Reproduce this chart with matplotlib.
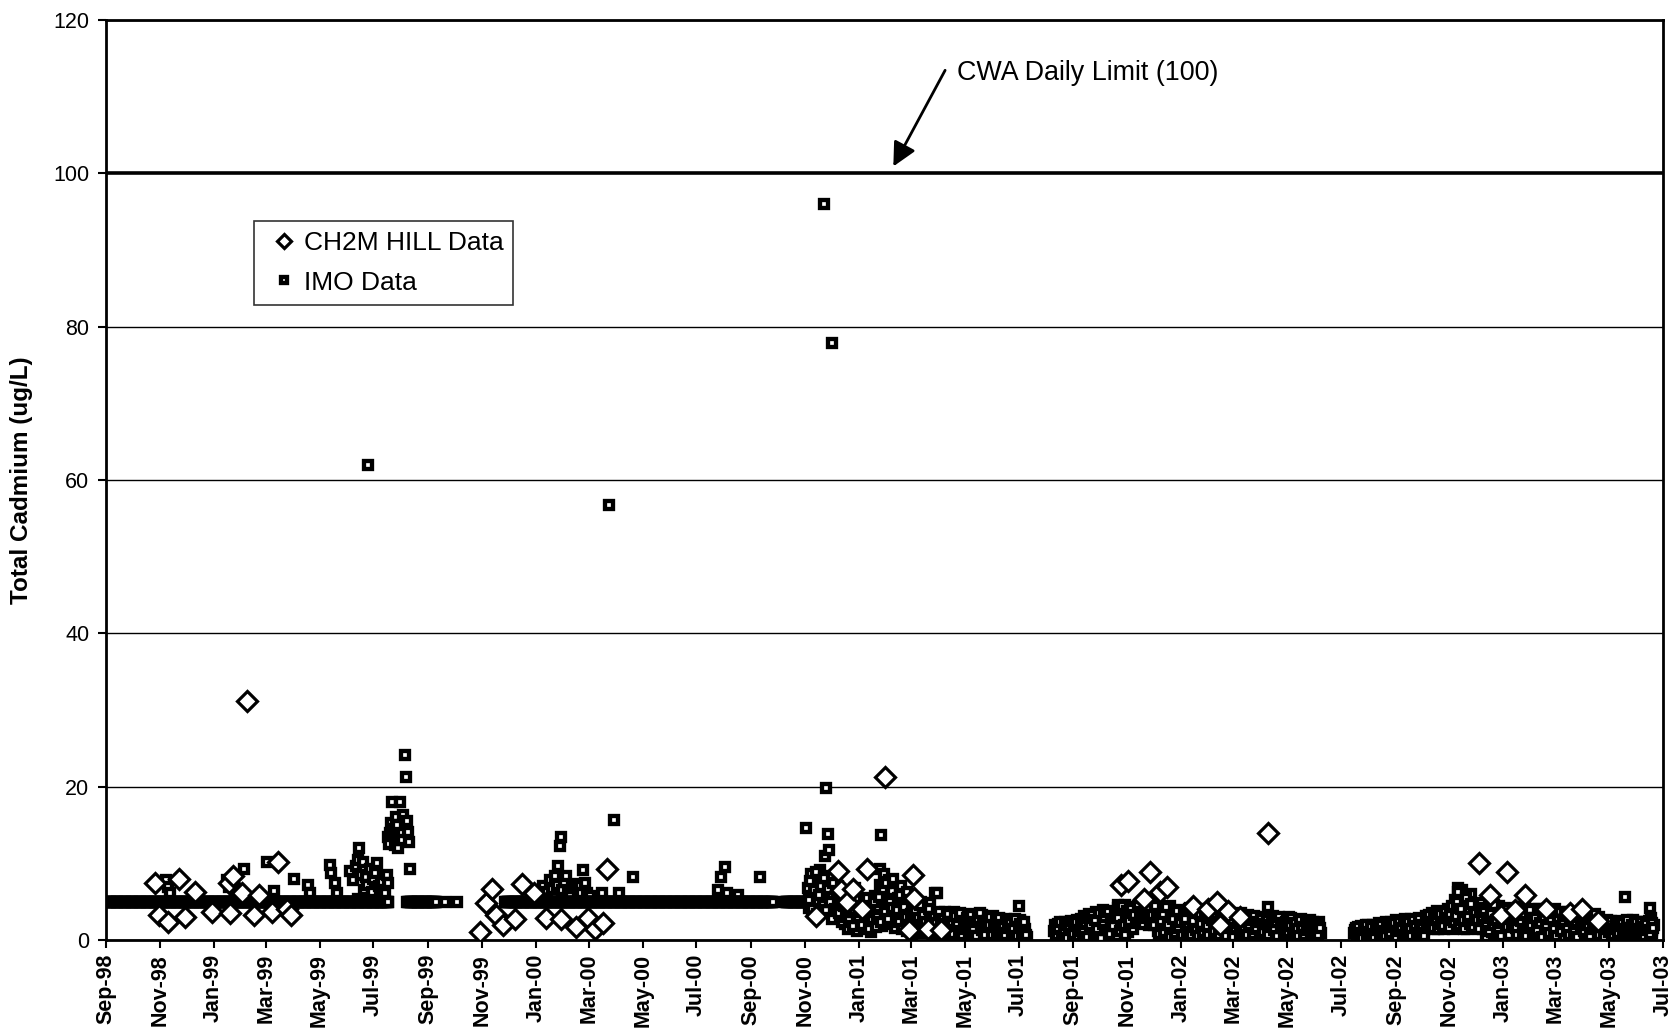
import matplotlib
matplotlib.use('Agg')
import matplotlib.pyplot as plt
import matplotlib.dates as mdates
import pandas as pd

plt.rcParams['font.family'] = ['Liberation Sans', 'DejaVu Sans']

# ---------------- DATA ----------------
# CH2M HILL samples
ch2m_dates = ['1998-10-27', '1998-10-31', '1998-11-10', '1998-11-23', '1998-11-29', '1998-12-11',
              '1998-12-30', '1999-01-18', '1999-01-20', '1999-01-23', '1999-02-02', '1999-02-08',
              '1999-02-16', '1999-02-21', '1999-03-08', '1999-03-15', '1999-03-25', '1999-03-30',
              '1999-10-30', '1999-11-05', '1999-11-12', '1999-11-17', '1999-11-25', '1999-12-08',
              '1999-12-16', '1999-12-30', '2000-01-13', '2000-01-30', '2000-02-16', '2000-02-29',
              '2000-03-08', '2000-03-17', '2000-03-22',
              '2000-11-13', '2000-12-08', '2000-12-12', '2000-12-19', '2000-12-25', '2001-01-05',
              '2001-01-10', '2001-01-30', '2001-02-27', '2001-03-03', '2001-03-04', '2001-03-20',
              '2001-04-04',
              '2001-10-25', '2001-11-02', '2001-11-20', '2001-11-27', '2001-12-08', '2001-12-16',
              '2002-01-14', '2002-01-31', '2002-02-11', '2002-02-14', '2002-02-23', '2002-03-09',
              '2002-04-09',
              '2002-12-04', '2002-12-17', '2002-12-30', '2003-01-05', '2003-01-14', '2003-01-26',
              '2003-02-19', '2003-03-18', '2003-03-31', '2003-04-18']
ch2m_values = [7.4, 3.3, 2.4, 8.0, 3.0, 6.3,
               3.7, 7.4, 3.5, 8.3, 6.1, 31.2,
               3.3, 5.9, 3.7, 10.2, 4.0, 3.3,
               1.1, 4.8, 6.6, 3.3, 2.0, 2.8,
               7.3, 6.1, 2.9, 2.8, 1.7, 2.9,
               1.5, 2.2, 9.3,
               3.1, 9.0, 6.5, 5.0, 6.6, 4.0,
               9.3, 21.3, 1.3, 8.5, 5.5, 1.5,
               1.3,
               7.2, 7.7, 5.3, 8.9, 6.3, 6.9,
               4.4, 4.1, 5.0, 2.0, 3.8, 3.0,
               13.9,
               10.1, 5.9, 3.3, 8.9, 3.9, 5.9,
               4.1, 3.5, 4.0, 2.5]

# IMO individual results
imo_dates = ['1998-11-08', '1998-11-10', '1998-11-12', '1999-01-16', '1999-01-18', '1999-01-25',
             '1999-02-04', '1999-03-02', '1999-03-10', '1999-04-02', '1999-04-18', '1999-04-20',
             '1999-05-13', '1999-05-14', '1999-05-19', '1999-05-21',
             '1999-06-04', '1999-06-08', '1999-06-11', '1999-06-13', '1999-06-14', '1999-06-15',
             '1999-06-17', '1999-06-19', '1999-06-20', '1999-06-22', '1999-06-24', '1999-06-25',
             '1999-06-27', '1999-06-29', '1999-07-01', '1999-07-03', '1999-07-05', '1999-07-07',
             '1999-07-09', '1999-07-11', '1999-07-14', '1999-07-16', '1999-07-18',
             '1999-07-17', '1999-07-19', '1999-07-20', '1999-07-21', '1999-07-22', '1999-07-24',
             '1999-07-25', '1999-07-26', '1999-07-28', '1999-07-29', '1999-07-31', '1999-08-02',
             '1999-08-04', '1999-08-06', '1999-08-07', '1999-08-08', '1999-08-09', '1999-08-10',
             '1999-08-11', '1999-09-20', '1999-10-04',
             '2000-01-09', '2000-01-14', '2000-01-17', '2000-01-19', '2000-01-23', '2000-01-25',
             '2000-01-26', '2000-01-28', '2000-01-29', '2000-01-31', '2000-02-02', '2000-02-04',
             '2000-02-06', '2000-02-09', '2000-02-13', '2000-02-17', '2000-02-20', '2000-02-21',
             '2000-02-23', '2000-02-26', '2000-02-28', '2000-03-02', '2000-03-16', '2000-03-24',
             '2000-03-30', '2000-04-04', '2000-04-20', '2000-07-25', '2000-07-29', '2000-08-02',
             '2000-08-04', '2000-08-17', '2000-09-11',
             '2000-11-02', '2000-11-22', '2000-11-24', '2000-11-25', '2000-11-27', '2000-11-28',
             '2000-12-01', '2001-01-25', '2001-01-26', '2001-03-28', '2001-07-01', '2001-07-03',
             '2001-10-22', '2002-04-10', '2002-09-29', '2002-11-11', '2002-11-15', '2003-05-19',
             '2003-06-16', '2003-06-17', '2003-06-18']
imo_values = [7.8, 6.9, 6.1, 7.8, 6.9, 6.3,
              9.2, 10.2, 6.4, 7.9, 7.2, 6.1,
              9.8, 8.7, 7.4, 6.1,
              9.0, 7.8, 9.6, 10.4, 5.4, 12.0,
              8.5, 10.2, 6.5, 8.2, 7.2, 61.9,
              9.2, 6.3, 8.0, 8.7, 10.0, 7.0,
              6.0, 7.6, 6.1, 8.5, 7.4,
              13.5, 12.5, 14.0, 15.2, 18.0, 14.5,
              12.4, 16.0, 15.0, 12.0, 18.0, 13.0,
              16.3, 24.1, 21.2, 15.5, 14.1, 12.8,
              9.2, 5.0, 5.0,
              7.0, 6.2, 7.8, 6.6, 8.3, 7.2,
              9.6, 12.2, 13.4, 6.5, 7.6, 8.3,
              6.1, 5.7, 6.8, 7.3, 7.0, 6.1,
              9.1, 7.4, 6.1, 5.7, 6.1, 56.8,
              15.6, 6.1, 8.2, 6.5, 8.2, 9.5,
              6.1, 5.9, 8.2,
              14.6, 96.0, 10.9, 19.8, 13.8, 11.8,
              77.9, 9.2, 13.7, 6.1, 4.5, 2.6,
              4.6, 4.3, 0.1, 6.8, 6.5, 5.6,
              4.2, 2.9, 0.9]

# IMO daily results reported at 5 ug/L (daily runs: start, end)
imo_rl_start = ['1998-09-01', '1999-08-08', '1999-11-27', '2000-10-09']
imo_rl_end = ['1999-07-18', '1999-09-10', '2000-09-26', '2000-11-12']
imo_rl_value = 5.0

# IMO dense monitoring periods: two interleaved sets, each one result every 2 days
imo_dense1a_start = '2000-11-04'
imo_dense1a_values = [6.8, 4.2, 8.6, 5.5, 3.8, 7.4, 4.9, 9.1, 6.2, 4.4,
                      7.9, 5.1, 3.6, 8.3, 6.0, 4.7, 2.9, 7.1, 5.4, 3.2,
                      6.2, 2.1, 4.8, 1.4, 5.6, 3.3, 2.4, 6.8, 1.2, 4.1,
                      2.8, 5.2, 1.6, 3.9, 2.2, 4.6, 1.1, 3.4, 5.8, 2.5,
                      4.3, 7.2, 1.8, 8.6, 5.1, 3.0, 7.8, 2.1, 6.4, 4.0,
                      1.7, 5.5, 3.1, 7.0, 2.4, 4.6, 1.2, 3.6, 5.2, 0.8,
                      2.7, 4.4, 1.5, 3.3, 5.0, 2.1, 0.9, 3.9, 1.8, 4.8,
                      2.6, 1.0, 3.5, 6.1, 2.0, 0.7, 3.1, 1.6, 3.7, 2.3,
                      0.9, 2.9, 1.4, 3.6, 0.6, 2.5, 1.8, 3.2, 1.1, 2.7,
                      0.5, 3.4, 1.9, 2.6, 0.8, 3.0, 1.5, 2.2, 0.6, 3.3,
                      1.7, 2.8, 0.9, 2.4, 1.3, 3.1, 0.7, 2.0, 1.6, 2.7,
                      0.8, 2.3, 1.4, 2.6, 0.5, 1.9, 2.5, 1.1, 2.2, 0.6,
                      1.8, 2.4, 0.9, 1.5, 0.4]
imo_dense1b_start = '2000-11-05'
imo_dense1b_values = [5.2, 7.7, 4.0, 6.5, 8.9, 3.4, 5.9, 7.0, 4.6, 8.1,
                      3.9, 6.6, 5.0, 2.7, 7.5, 4.1, 6.3, 3.5, 5.7, 2.3,
                      4.5, 3.0, 6.0, 2.6, 4.9, 1.8, 3.7, 5.3, 2.9, 3.6,
                      1.9, 4.4, 3.1, 5.5, 1.5, 3.8, 2.6, 4.9, 1.7, 3.0,
                      5.6, 2.4, 6.6, 3.6, 7.5, 2.8, 5.0, 4.2, 8.0, 1.6,
                      3.9, 2.3, 5.9, 1.4, 4.3, 3.0, 6.3, 2.0, 3.4, 1.6,
                      3.8, 1.1, 2.9, 4.6, 1.9, 3.2, 2.4, 1.3, 4.0, 2.8,
                      1.5, 3.0, 2.2, 0.8, 3.6, 1.7, 2.8, 0.6, 2.1, 3.4,
                      1.7, 2.4, 0.8, 3.1, 2.0, 1.2, 3.5, 0.7, 2.3, 1.5,
                      2.9, 1.1, 3.2, 1.6, 2.3, 0.5, 2.7, 3.5, 1.3, 2.0,
                      0.7, 2.5, 1.9, 3.0, 0.6, 1.8, 2.6, 1.2, 2.9, 0.9,
                      2.0, 0.6, 2.7, 1.6, 2.2, 0.9, 1.4, 2.8, 0.5, 1.7,
                      2.1, 1.0, 2.3, 0.7]
imo_dense2a_start = '2001-08-10'
imo_dense2a_values = [1.2, 0.4, 2.1, 0.8, 1.6, 0.3, 2.4, 1.0, 1.8, 0.5,
                      2.2, 1.3, 0.6, 2.6, 1.5, 0.3, 2.0, 3.1, 0.9, 1.7,
                      3.4, 0.4, 2.3, 1.2, 3.7, 0.7, 2.8, 1.6, 3.9, 0.5,
                      2.5, 3.2, 1.1, 3.8, 0.6, 2.2, 4.2, 1.4, 3.0, 0.4,
                      4.6, 2.7, 1.0, 3.5, 2.1, 4.3, 3.0, 2.4, 3.9, 2.2,
                      3.4, 4.5, 2.6, 3.1, 2.0, 4.0, 2.8, 3.6, 2.3, 1.2,
                      4.1, 0.6, 2.9, 3.7, 1.5, 0.3, 4.4, 2.2, 1.0, 3.3,
                      0.5, 2.6, 3.9, 1.3, 0.8, 3.5, 2.0, 4.2, 0.4, 1.7,
                      3.0, 2.4, 0.7, 3.8, 1.6, 0.3, 2.7, 4.0, 1.1, 2.2,
                      3.6, 0.5, 1.9, 3.2, 0.9, 2.6, 3.9, 1.4, 0.4, 2.9,
                      3.4, 1.2, 2.1, 0.6, 3.0, 1.8, 3.5, 0.8, 2.4, 1.5,
                      3.2, 0.5, 2.0, 2.8, 1.1, 0.7, 3.0, 1.7, 2.5, 0.4,
                      1.4, 2.9, 0.9, 2.2, 3.1, 0.6, 1.8, 2.6, 1.2, 0.5,
                      2.7, 1.6, 0.8, 3.0, 2.1, 0.4, 1.3, 2.5, 1.9, 0.7,
                      2.8, 1.1, 2.2, 0.6, 1.6, 2.6, 0.9, 1.9, 0.5, 1.4,
                      2.3, 0.9]
imo_dense2b_start = '2001-08-11'
imo_dense2b_values = [1.9, 0.7, 1.4, 2.3, 0.5, 1.1, 2.0, 0.3, 1.5, 2.5,
                      0.8, 1.9, 2.4, 0.5, 1.2, 2.8, 1.0, 2.2, 0.4, 2.9,
                      1.8, 3.3, 0.9, 2.6, 1.4, 3.5, 0.3, 2.1, 3.0, 1.3,
                      3.6, 0.8, 2.7, 1.8, 3.3, 0.5, 2.9, 1.2, 4.4, 2.0,
                      0.6, 3.8, 2.5, 4.1, 1.4, 3.3, 2.2, 4.5, 2.7, 3.6,
                      2.1, 3.9, 2.9, 4.3, 2.4, 3.2, 2.0, 4.4, 3.0, 0.8,
                      2.5, 3.4, 1.1, 4.3, 1.9, 0.4, 3.1, 2.7, 0.9, 3.8,
                      1.6, 2.3, 0.6, 3.3, 2.8, 1.1, 4.0, 0.7, 2.5, 3.6,
                      1.3, 0.5, 3.4, 2.1, 1.0, 3.9, 1.8, 0.6, 3.2, 2.6,
                      1.2, 3.1, 2.3, 0.7, 3.7, 1.5, 2.1, 0.5, 3.3, 1.8,
                      2.6, 0.4, 1.6, 3.2, 2.2, 0.9, 2.8, 1.3, 3.0, 0.6,
                      1.9, 2.6, 0.8, 3.1, 1.5, 2.3, 0.5, 2.7, 1.0, 2.1,
                      2.6, 0.7, 1.9, 2.8, 1.3, 2.4, 0.5, 3.0, 1.6, 2.2,
                      0.6, 2.4, 1.1, 1.8, 2.9, 0.9, 2.2, 1.5, 0.5, 2.6,
                      1.7, 0.6, 2.5, 1.3, 2.0, 0.8, 2.4, 1.2, 2.1, 0.7,
                      1.6]
imo_dense3a_start = '2002-07-16'
imo_dense3a_values = [0.9, 1.6, 0.3, 1.2, 1.8, 0.5, 1.4, 0.8, 1.9, 0.4,
                      1.5, 2.0, 0.7, 1.1, 2.2, 0.3, 1.7, 1.0, 2.3, 0.6,
                      1.3, 2.4, 0.5, 1.8, 2.6, 0.9, 0.3, 2.1, 1.4, 2.7,
                      0.6, 1.9, 2.8, 1.1, 0.4, 2.4, 1.6, 2.9, 0.8, 2.2,
                      1.5, 3.1, 1.9, 2.6, 3.5, 1.4, 2.2, 3.8, 1.7, 2.9,
                      3.3, 1.5, 2.5, 4.0, 2.0, 3.6, 1.4, 5.2, 2.8, 6.2,
                      1.8, 3.4, 4.6, 2.3, 1.5, 3.9, 6.0, 2.7, 4.3, 1.6,
                      3.1, 2.2, 4.8, 1.4, 3.6, 0.4, 2.5, 4.1, 1.0, 3.3,
                      0.6, 2.0, 4.4, 1.5, 3.0, 0.3, 3.8, 2.4, 1.1, 4.2,
                      0.8, 2.7, 3.5, 1.3, 0.4, 3.9, 2.1, 4.5, 1.2, 2.9,
                      0.5, 3.3, 1.8, 4.0, 2.4, 0.7, 3.6, 1.5, 2.8, 0.3,
                      3.8, 2.0, 1.1, 3.2, 4.1, 0.6, 2.5, 1.7, 3.5, 0.4,
                      2.2, 3.7, 1.3, 0.8, 3.0, 1.9, 3.4, 0.5, 2.6, 1.4,
                      3.6, 0.7, 2.1, 2.9, 1.0, 3.3, 0.4, 2.4, 1.6, 3.0,
                      0.6, 2.2, 1.3, 2.6, 0.3, 1.8, 2.4, 0.9, 2.0, 1.5,
                      2.5, 0.5, 1.7, 2.3, 1.0, 0.3, 2.1, 1.4, 2.6, 0.7,
                      1.9, 2.4, 0.4, 1.2, 2.2, 0.8, 1.6, 2.5, 0.6, 1.3,
                      2.0]
imo_dense3b_start = '2002-07-17'
imo_dense3b_values = [1.3, 0.6, 1.7, 0.9, 0.3, 1.5, 1.9, 0.6, 1.1, 1.7,
                      0.8, 0.4, 1.8, 1.3, 0.7, 2.0, 1.2, 0.5, 1.6, 2.1,
                      0.9, 1.7, 2.2, 0.4, 1.2, 2.3, 1.6, 0.7, 2.5, 1.0,
                      2.3, 1.4, 0.5, 2.6, 1.8, 0.9, 2.7, 1.2, 2.0, 0.5,
                      2.6, 1.8, 3.3, 2.4, 1.6, 3.0, 2.7, 1.5, 3.4, 2.1,
                      1.8, 3.7, 2.9, 1.6, 3.2, 4.4, 2.3, 3.1, 4.9, 1.9,
                      4.0, 2.6, 1.4, 5.5, 3.0, 2.1, 4.7, 1.7, 3.5, 2.6,
                      1.5, 4.2, 2.8, 3.7, 1.9, 2.9, 1.2, 3.4, 2.0, 4.6,
                      2.6, 1.2, 3.5, 0.5, 2.3, 4.0, 1.7, 0.6, 3.1, 2.0,
                      3.6, 1.6, 0.7, 4.3, 2.5, 1.1, 3.3, 0.5, 2.3, 3.9,
                      1.9, 0.8, 2.9, 1.3, 4.1, 2.2, 0.4, 3.0, 1.7, 3.8,
                      0.9, 2.7, 3.5, 1.5, 0.5, 2.9, 3.6, 1.2, 2.1, 3.1,
                      1.5, 0.6, 2.9, 3.3, 1.1, 2.4, 0.4, 3.0, 1.8, 2.6,
                      1.2, 3.1, 1.9, 0.5, 2.7, 1.5, 3.4, 2.0, 0.7, 2.3,
                      1.7, 0.4, 2.4, 1.9, 1.1, 2.5, 0.6, 1.5, 2.3, 0.9,
                      1.8, 2.2, 0.9, 1.4, 2.6, 1.6, 0.6, 2.0, 1.1, 2.4,
                      0.9, 1.5, 2.3, 1.7, 0.5, 2.1, 1.3, 0.8, 2.2, 1.6]
imo_dense_step = '2D'

y_ticks = [0, 20, 40, 60, 80, 100, 120]
limit_value = 100
limit_label = 'CWA Daily Limit (100)'
x_start, x_end = '1998-09-01', '2003-07-01'

# ---------------- BUILD SERIES ----------------
imo_x = [pd.Timestamp(d) for d in imo_dates]
imo_y = list(imo_values)
for s, e in zip(imo_rl_start, imo_rl_end):
    rng = pd.date_range(s, e, freq='D')
    imo_x += list(rng)
    imo_y += [imo_rl_value] * len(rng)
for s, vals in [(imo_dense1a_start, imo_dense1a_values),
                (imo_dense1b_start, imo_dense1b_values),
                (imo_dense2a_start, imo_dense2a_values),
                (imo_dense2b_start, imo_dense2b_values),
                (imo_dense3a_start, imo_dense3a_values),
                (imo_dense3b_start, imo_dense3b_values)]:
    rng = pd.date_range(s, periods=len(vals), freq=imo_dense_step)
    imo_x += list(rng)
    imo_y += list(vals)

ch2m_x = [pd.Timestamp(d) for d in ch2m_dates]

# ---------------- PLOT ----------------
fig = plt.figure(figsize=(16.75, 10.32), dpi=100)
ax = fig.add_axes([106 / 1675, 92 / 1032, 1557 / 1675, 920 / 1032])

ax.plot(imo_x, imo_y, linestyle='none', marker='s', ms=5.3, mfc='white',
        mec='black', mew=3.1, zorder=3, label='IMO Data')
ax.plot(ch2m_x, ch2m_values, linestyle='none', marker='D', ms=10.0, mfc='white',
        mec='black', mew=2.3, zorder=4, label='CH2M HILL Data')

ax.set_xlim(pd.Timestamp(x_start), pd.Timestamp(x_end))
ax.set_ylim(y_ticks[0], y_ticks[-1])
ax.set_yticks(y_ticks)

ax.xaxis.set_major_locator(mdates.MonthLocator(bymonth=[1, 3, 5, 7, 9, 11]))
ax.xaxis.set_major_formatter(mdates.DateFormatter('%b-%y'))
for lab in ax.get_xticklabels():
    lab.set_rotation(90)
    lab.set_fontweight('bold')
    lab.set_fontsize(15.5)
ax.tick_params(axis='x', direction='out', length=6, width=1.5, pad=4)
ax.tick_params(axis='y', direction='out', length=6, width=1.5, labelsize=15.5, pad=6)

ax.yaxis.grid(True, color='black', linewidth=1.0)
ax.set_axisbelow(True)
for tick_val, gl in zip(ax.get_yticks(), ax.get_ygridlines()):
    if tick_val == limit_value:
        gl.set_linewidth(2.6)

for sp in ax.spines.values():
    sp.set_linewidth(2.0)
    sp.set_color('black')

ax.set_ylabel('Total Cadmium (ug/L)', fontsize=17.5, fontweight='bold')
ax.yaxis.set_label_coords(-0.047, 0.5)

ax.annotate(limit_label, xy=(pd.Timestamp('2001-02-09'), 100.9),
            xytext=(pd.Timestamp('2001-04-22'), 113.1),
            fontsize=19.4, ha='left', va='center',
            arrowprops=dict(arrowstyle='-|>', color='black', lw=2,
                            mutation_scale=36, relpos=(-0.045, 0.6),
                            shrinkA=0, shrinkB=0))

handles, labels = ax.get_legend_handles_labels()
leg = ax.legend(handles[::-1], labels[::-1], loc='upper left',
                bbox_to_anchor=(0.095, 0.7815), borderaxespad=0,
                fontsize=19, frameon=True, fancybox=False, edgecolor='black',
                handlelength=1.5, handletextpad=0.0, labelspacing=0.59,
                borderpad=0.38, markerscale=0.72)
leg.get_frame().set_linewidth(1.2)

fig.savefig('out.png', dpi=100, facecolor='white')
